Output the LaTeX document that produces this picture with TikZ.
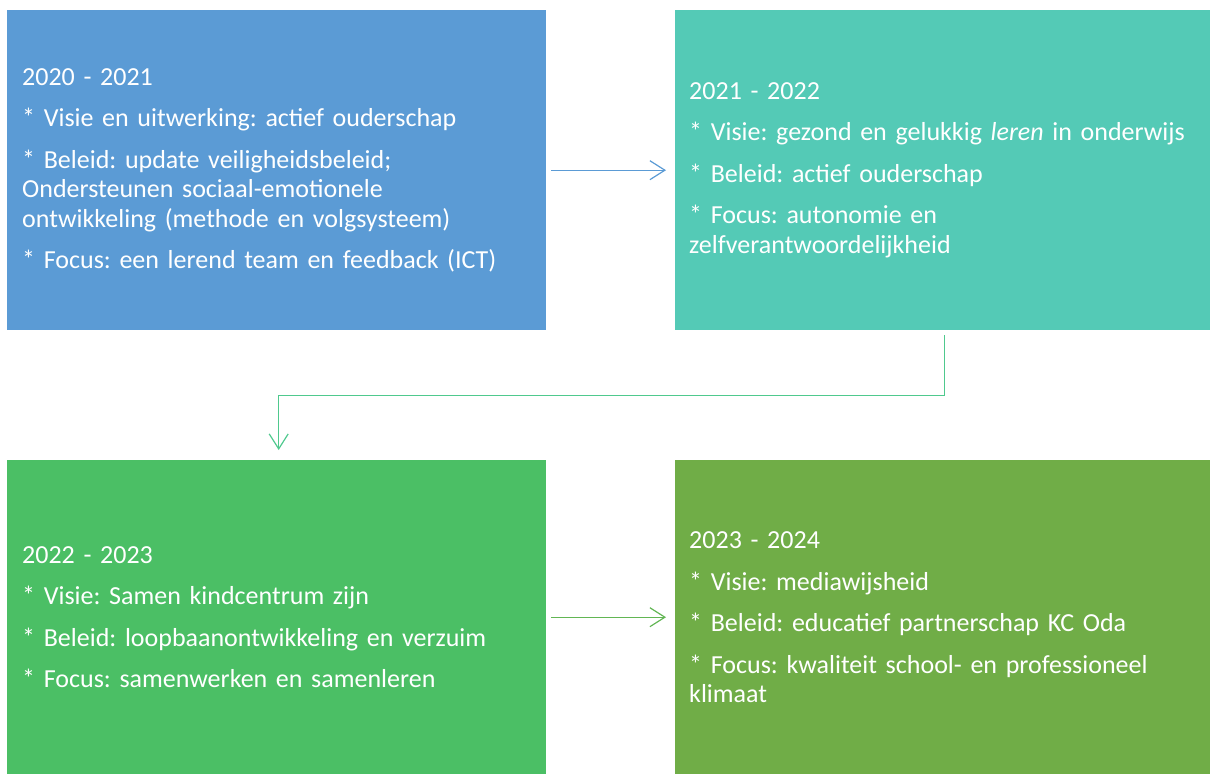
\documentclass[tikz,border=0pt]{standalone}
\usepackage{fontspec}
\setmainfont{Carlito}
\usetikzlibrary{arrows.meta}
\definecolor{cblue}{HTML}{5B9BD5}
\definecolor{cteal}{HTML}{54CAB6}
\definecolor{cgreen}{HTML}{4BBF65}
\definecolor{colive}{HTML}{70AD47}
\definecolor{ablue}{HTML}{5B9BD5}
\definecolor{ateal}{HTML}{4FC98E}
\definecolor{agreen}{HTML}{62B654}
\frenchspacing
\tikzset{
  box/.style={rectangle, anchor=north west, minimum width=539pt, minimum height=320pt,
    text width=509pt, inner xsep=15pt, inner ysep=0pt, align=left, text=white,
    font=\fontsize{26}{29.5}\selectfont},
  arr/.style={line width=1.2pt, -{Straight Barb[length=15pt,width=19pt,line width=1.2pt]}}
}
\begin{document}
\begin{tikzpicture}[x=1pt,y=-1pt]
\useasboundingbox (0,0) rectangle (1210,774);
\node[box, fill=cblue] (b1) at (7,10) {2020 - 2021\\[12pt]
* Visie en uitwerking: actief ouderschap\\[12pt]
* Beleid: update veiligheidsbeleid;\\
Ondersteunen sociaal-emotionele\\
ontwikkeling (methode en volgsysteem)\\[12pt]
* Focus: een lerend team en feedback (ICT)};
\node[box, fill=cteal, minimum width=535pt, text width=507pt, inner xsep=14pt] (b2) at (675,10) {2021 - 2022\\[12pt]
* Visie: gezond en gelukkig \textit{leren} in onderwijs\\[12pt]
* Beleid: actief ouderschap\\[12pt]
* Focus: autonomie en\\
zelfverantwoordelijkheid};
\node[box, fill=cgreen, minimum height=314pt] (b3) at (7,460) {2022 - 2023\\[12pt]
* Visie: Samen kindcentrum zijn\\[12pt]
* Beleid: loopbaanontwikkeling en verzuim\\[12pt]
* Focus: samenwerken en samenleren};
\node[box, fill=colive, minimum width=535pt, text width=507pt, inner xsep=14pt, minimum height=314pt] (b4) at (675,460) {2023 - 2024\\[12pt]
* Visie: mediawijsheid\\[12pt]
* Beleid: educatief partnerschap KC Oda\\[12pt]
* Focus: kwaliteit school- en professioneel\\
klimaat};
\draw[arr, ablue] ([xshift=5pt]b1.east) -- ([xshift=-9pt]b2.west);
\draw[arr, ateal] ([xshift=2pt,yshift=-5pt]b2.south) -- ++(0,60) -| ([xshift=2pt,yshift=10pt]b3.north);
\draw[arr, agreen] ([xshift=5pt]b3.east) -- ([xshift=-9pt]b4.west);
\end{tikzpicture}
\end{document}
